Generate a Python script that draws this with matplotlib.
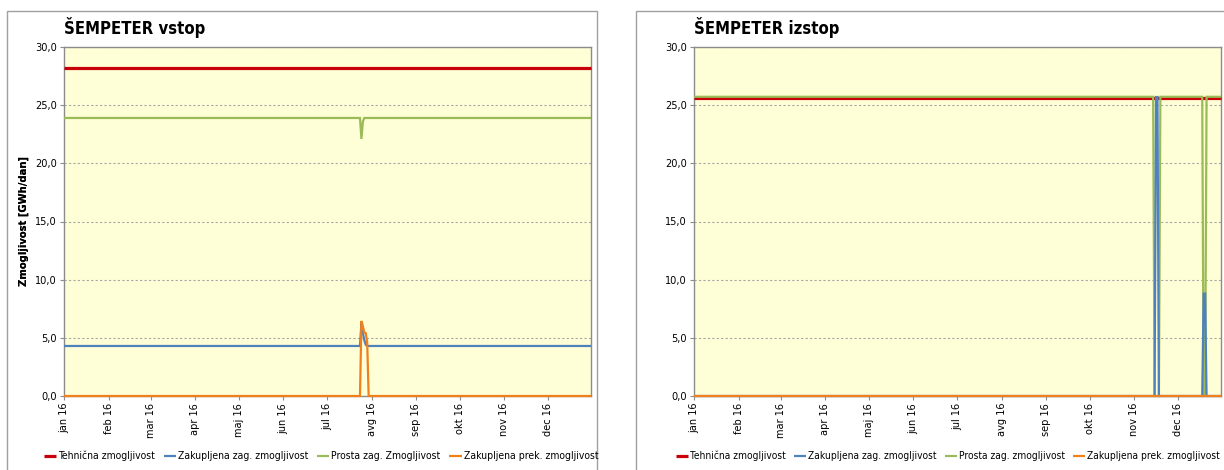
import matplotlib
matplotlib.use("Agg")
import matplotlib.pyplot as plt
import matplotlib.dates as mdates
from matplotlib.patches import Rectangle
from matplotlib.ticker import FuncFormatter, FixedLocator
import pandas as pd

# ---------------- data ----------------
month_starts = ["2016-01-01", "2016-02-01", "2016-03-01", "2016-04-01", "2016-05-01", "2016-06-01",
                "2016-07-01", "2016-08-01", "2016-09-01", "2016-10-01", "2016-11-01", "2016-12-01"]
month_labels = ["jan 16", "feb 16", "mar 16", "apr 16", "maj 16", "jun 16",
                "jul 16", "avg 16", "sep 16", "okt 16", "nov 16", "dec 16"]
x_start, x_end = "2016-01-01", "2016-12-31"

# Left panel: ŠEMPETER vstop
vstop_teh_dates = ["2016-01-01", "2016-12-31"]
vstop_teh = [28.2, 28.2]
vstop_zak_dates = ["2016-01-01", "2016-07-24", "2016-07-25", "2016-07-26", "2016-07-27",
                   "2016-07-28", "2016-07-29", "2016-12-31"]
vstop_zak = [4.3, 4.3, 6.3, 5.4, 4.8, 4.4, 4.3, 4.3]
vstop_prosta_dates = ["2016-01-01", "2016-07-24", "2016-07-25", "2016-07-26", "2016-07-27", "2016-12-31"]
vstop_prosta = [23.9, 23.9, 22.1, 23.6, 23.9, 23.9]
vstop_prek_dates = ["2016-01-01", "2016-07-24", "2016-07-25", "2016-07-26", "2016-07-27",
                    "2016-07-28", "2016-07-29", "2016-07-30", "2016-12-31"]
vstop_prek = [0.0, 0.0, 6.45, 6.0, 5.45, 5.4, 4.6, 0.0, 0.0]

# Right panel: ŠEMPETER izstop
izstop_teh_dates = ["2016-01-01", "2016-12-31"]
izstop_teh = [25.62, 25.62]
izstop_zak_dates = ["2016-01-01", "2016-11-15", "2016-11-16", "2016-11-17", "2016-11-18",
                    "2016-12-18", "2016-12-19", "2016-12-20", "2016-12-21", "2016-12-31"]
izstop_zak = [0.0, 0.0, 25.7, 25.7, 0.0, 0.0, 8.8, 8.8, 0.0, 0.0]
izstop_prosta_dates = ["2016-01-01", "2016-11-14", "2016-11-15", "2016-11-18", "2016-11-19",
                       "2016-12-18", "2016-12-19", "2016-12-20", "2016-12-21", "2016-12-31"]
izstop_prosta = [25.72, 25.72, 0.0, 0.0, 25.72, 25.72, 0.0, 0.0, 25.72, 25.72]
izstop_prek_dates = ["2016-01-01", "2016-12-31"]
izstop_prek = [0.0, 0.0]

titles = ["ŠEMPETER vstop", "ŠEMPETER izstop"]
ylabel = "Zmogljivost [GWh/dan]"
legend_left = ["Tehnična zmogljivost", "Zakupljena zag. zmogljivost",
               "Prosta zag. Zmogljivost", "Zakupljena prek. zmogljivost"]
legend_right = ["Tehnična zmogljivost", "Zakupljena zag. zmogljivost",
                "Prosta zag. zmogljivost", "Zakupljena prek. zmogljivost"]
y_ticks = [0, 5, 10, 15, 20, 25, 30]

# ---------------- style ----------------
plt.rcParams['font.family'] = ['DejaVu Sans']
plt.rcParams['font.stretch'] = 'condensed'
C_RED = "#C8000A"
C_BLUE = "#4F81BD"
C_GREEN = "#9BBB59"
C_ORANGE = "#F0801E"
BG = "#FFFFD7"
GRID = "#A6A6A6"
SPINE = "#8C8C8C"

W, H = 1224, 470
fig = plt.figure(figsize=(W / 100, H / 100), dpi=100)


def fx(px):
    return px / W


def fy(py):
    return 1 - py / H


# panel borders
for (x0, x1) in [(7, 597), (636, 1240)]:
    fig.patches.append(Rectangle((fx(x0), fy(480)), fx(x1 - x0), (480 - 11) / H,
                                 transform=fig.transFigure, fill=False,
                                 edgecolor="#A0A0A0", linewidth=1.0))

# series: (dates, values, colour, width, zorder)
panels = [
    dict(left=64, right=591, title=titles[0], legend=legend_left, lcx=321, lfs=7.5,
         series=[(vstop_teh_dates, vstop_teh, C_RED, 2.3, 2),
                 (vstop_zak_dates, vstop_zak, C_BLUE, 1.6, 4),
                 (vstop_prosta_dates, vstop_prosta, C_GREEN, 1.6, 3),
                 (vstop_prek_dates, vstop_prek, C_ORANGE, 1.6, 5)]),
    dict(left=694, right=1221, title=titles[1], legend=legend_right, lcx=948, lfs=7.3,
         series=[(izstop_teh_dates, izstop_teh, C_RED, 2.3, 2),
                 (izstop_zak_dates, izstop_zak, C_BLUE, 1.6, 4),
                 (izstop_prosta_dates, izstop_prosta, C_GREEN, 1.6, 3),
                 (izstop_prek_dates, izstop_prek, C_ORANGE, 1.6, 5)]),
]

top, bottom = 47, 396
for p in panels:
    ax = fig.add_axes([fx(p['left']), fy(bottom), fx(p['right'] - p['left']), (bottom - top) / H])
    ax.set_facecolor(BG)
    handles = []
    for dates, vals, col, lw, z in p['series']:
        ln, = ax.plot(pd.to_datetime(dates), vals, color=col, linewidth=lw,
                      solid_joinstyle='miter', solid_capstyle='butt', clip_on=False, zorder=z)
        handles.append(ln)
    ax.set_xlim(pd.Timestamp(x_start), pd.Timestamp(x_end))
    ax.set_ylim(0, 30)
    ax.xaxis.set_major_locator(FixedLocator(mdates.date2num(pd.to_datetime(month_starts))))
    ax.set_xticklabels(month_labels, rotation=90, fontsize=7.8)
    ax.yaxis.set_major_locator(FixedLocator(y_ticks))
    ax.yaxis.set_major_formatter(FuncFormatter(lambda v, pos: f"{v:.1f}".replace('.', ',')))
    ax.tick_params(axis='both', direction='out', length=3, width=0.8, color=SPINE,
                   labelsize=7.8, pad=2)
    ax.grid(axis='y', color=GRID, linestyle=(0, (2, 2)), linewidth=0.8)
    ax.set_axisbelow(True)
    for s in ax.spines.values():
        s.set_color(SPINE)
        s.set_linewidth(1.0)
        s.set_zorder(1)
    ax.set_ylabel(ylabel, fontsize=8, fontweight='bold')
    ax.yaxis.set_label_coords((29 - p['left']) / (p['right'] - p['left']), 0.5)
    fig.text(fx(p['left']), fy(27), p['title'], fontsize=12, fontweight='bold',
             ha='left', va='center')
    fig.legend(handles, p['legend'], loc='center', bbox_to_anchor=(fx(p['lcx']), fy(456)),
               ncol=4, frameon=False, fontsize=p['lfs'], handlelength=1.2, handletextpad=0.2,
               columnspacing=0.8, borderpad=0, borderaxespad=0)

fig.savefig("out.png", dpi=100, facecolor="white")
